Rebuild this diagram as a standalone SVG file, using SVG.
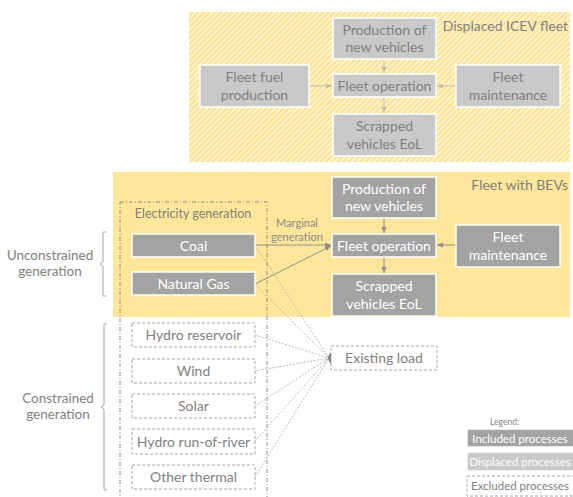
<svg xmlns="http://www.w3.org/2000/svg" width="573" height="497" viewBox="0 0 573 497">
<style>
text{font-family:Lato,"Liberation Sans",sans-serif}
.lbl{font-size:14px;text-anchor:middle}
.disp rect{fill:#c9c9c9;stroke:#ffffff;stroke-width:1.5}
.disp text{fill:#7f7f7f}
.inc rect{fill:#a3a3a3;stroke:#ffffff;stroke-width:1.5}
.inc text{fill:#ffffff}
.exc rect{fill:#ffffff;stroke:#a6a6a6;stroke-width:1;stroke-dasharray:3,2}
.exc text{fill:#7f7f7f}
.title{font-size:14px;fill:#7f7f7f}
.ca{stroke:#c4bca8;stroke-width:1;fill:none;marker-end:url(#ah1)}
.cb{stroke:#8c8c8c;stroke-width:1;fill:none;marker-end:url(#ah2)}
.cd{stroke:#a6a6a6;stroke-width:0.8;fill:none;stroke-dasharray:2,1.5}
.br{stroke:#a6a6a6;stroke-width:1;fill:none}
.side{font-size:13.5px;fill:#7f7f7f;text-anchor:middle}
</style>
<defs>
<pattern id="hatch" width="4" height="4" patternUnits="userSpaceOnUse" patternTransform="rotate(45)">
<rect width="4" height="4" fill="#fff4d2"/>
<rect width="2" height="4" fill="#ffe28e"/>
</pattern>
<marker id="ah1" viewBox="0 0 6 6" refX="6" refY="3" markerWidth="6" markerHeight="6" orient="auto" markerUnits="userSpaceOnUse">
<path d="M0,0.5 L6,3 L0,5.5 z" fill="#c4bca8"/>
</marker>
<marker id="ah2" viewBox="0 0 6 6" refX="6" refY="3" markerWidth="6" markerHeight="6" orient="auto" markerUnits="userSpaceOnUse">
<path d="M0,0.5 L6,3 L0,5.5 z" fill="#8c8c8c"/>
</marker>
</defs>
<rect width="573" height="497" fill="#ffffff"/>

<g id="panel-icev">
<rect x="189" y="12" width="381" height="150" fill="url(#hatch)"/>
<text class="title" x="568" y="31" text-anchor="end">Displaced ICEV fleet</text>
</g>
<g id="panel-bev">
<rect x="113" y="172" width="457" height="145" fill="#ffe699"/>
<text class="title" x="568" y="190" text-anchor="end">Fleet with BEVs</text>
</g>

<g id="electricity-generation">
<rect x="120" y="202" width="147" height="300" fill="none" stroke="#7f7f7f" stroke-width="0.9" stroke-dasharray="4,2,1,2"/>
<text x="193" y="218" font-size="12.5" fill="#7f7f7f" text-anchor="middle">Electricity generation</text>
</g>

<g id="connectors">
<line class="ca" x1="384" y1="59" x2="384" y2="73"/>
<line class="ca" x1="309" y1="86" x2="332" y2="86"/>
<line class="ca" x1="456" y1="86" x2="437" y2="86"/>
<line class="ca" x1="384" y1="97" x2="384" y2="113"/>
<line class="cb" x1="384" y1="218" x2="384" y2="233"/>
<line class="cb" x1="456" y1="245" x2="437" y2="245"/>
<line class="cb" x1="384" y1="257" x2="384" y2="273"/>
<line class="cb" x1="255" y1="245" x2="331" y2="245"/>
<line class="cb" x1="255" y1="284" x2="331" y2="246"/>
<line class="cd" x1="255" y1="245" x2="329" y2="358"/>
<line class="cd" x1="255" y1="284" x2="329" y2="358"/>
<line class="cd" x1="255" y1="335" x2="329" y2="358"/>
<line class="cd" x1="255" y1="371" x2="329" y2="358"/>
<line class="cd" x1="255" y1="406" x2="329" y2="358"/>
<line class="cd" x1="255" y1="441" x2="329" y2="358"/>
<line class="cd" x1="255" y1="477" x2="329" y2="358"/>
<path d="M331,352 Q325,358 331,364 z" fill="#7f7f7f"/>
<text x="297" y="227" font-size="11" fill="#8c8c8c" text-anchor="middle">Marginal</text>
<text x="297" y="241" font-size="11" fill="#8c8c8c" text-anchor="middle">generation</text>
</g>

<g id="icev-production" class="disp"><rect x="333" y="18" width="103" height="41"/><text class="lbl" x="384.5" y="35">Production of</text><text class="lbl" x="384.5" y="52">new vehicles</text></g>
<g id="icev-fuel" class="disp"><rect x="200" y="65" width="109" height="42"/><text class="lbl" x="254.5" y="82">Fleet fuel</text><text class="lbl" x="254.5" y="100">production</text></g>
<g id="icev-operation" class="disp"><rect x="333" y="74" width="103" height="23"/><text class="lbl" x="384.5" y="91">Fleet operation</text></g>
<g id="icev-maintenance" class="disp"><rect x="456" y="65" width="104" height="42"/><text class="lbl" x="508" y="82">Fleet</text><text class="lbl" x="508" y="100">maintenance</text></g>
<g id="icev-scrapped" class="disp"><rect x="333" y="114" width="103" height="42"/><text class="lbl" x="384.5" y="131">Scrapped</text><text class="lbl" x="384.5" y="149">vehicles EoL</text></g>

<g id="bev-production" class="inc"><rect x="332" y="177" width="104" height="41"/><text class="lbl" x="384" y="194">Production of</text><text class="lbl" x="384" y="211">new vehicles</text></g>
<g id="bev-operation" class="inc"><rect x="332" y="234" width="104" height="23"/><text class="lbl" x="384" y="250.5">Fleet operation</text></g>
<g id="bev-maintenance" class="inc"><rect x="456" y="225" width="104" height="42"/><text class="lbl" x="508" y="242">Fleet</text><text class="lbl" x="508" y="260">maintenance</text></g>
<g id="bev-scrapped" class="inc"><rect x="332" y="274" width="104" height="42"/><text class="lbl" x="384" y="291">Scrapped</text><text class="lbl" x="384" y="309">vehicles EoL</text></g>
<g id="coal" class="inc"><rect x="132" y="234" width="123" height="23"/><text class="lbl" x="193.5" y="250.5">Coal</text></g>
<g id="natural-gas" class="inc"><rect x="132" y="272" width="123" height="23"/><text class="lbl" x="193.5" y="288.5">Natural Gas</text></g>

<g id="hydro-reservoir" class="exc"><rect x="132" y="323" width="123" height="24"/><text class="lbl" x="193.5" y="340">Hydro reservoir</text></g>
<g id="wind" class="exc"><rect x="132" y="359" width="123" height="24"/><text class="lbl" x="193.5" y="376">Wind</text></g>
<g id="solar" class="exc"><rect x="132" y="394" width="123" height="24"/><text class="lbl" x="193.5" y="411">Solar</text></g>
<g id="hydro-ror" class="exc"><rect x="132" y="429" width="123" height="25"/><text class="lbl" x="193.5" y="446.5">Hydro run-of-river</text></g>
<g id="other-thermal" class="exc"><rect x="132" y="465" width="123" height="24"/><text class="lbl" x="193.5" y="482">Other thermal</text></g>
<g id="existing-load" class="exc"><rect x="331" y="346" width="106" height="24"/><text class="lbl" x="384" y="363">Existing load</text></g>

<g id="unconstrained-bracket">
<path class="br" d="M106,232 L103,232 L103,262 L100,264 L103,266 L103,296 L106,296"/>
<text class="side" x="50" y="260">Unconstrained</text>
<text class="side" x="50" y="276">generation</text>
</g>
<g id="constrained-bracket">
<path class="br" d="M107,324 L104,324 L104,405 L101,407 L104,409 L104,490 L107,490"/>
<text class="side" x="58" y="403">Constrained</text>
<text class="side" x="58" y="419">generation</text>
</g>

<g id="legend">
<text x="490" y="425" font-size="8.5" fill="#7f7f7f">Legend:</text>
<g class="inc"><rect x="467" y="429" width="108" height="18" stroke="none"/><text x="520" y="442.5" font-size="11.5" text-anchor="middle">Included processes</text></g>
<g class="disp"><rect x="467" y="452" width="108" height="19" stroke="none"/><text x="520" y="466" font-size="11.5" text-anchor="middle" style="fill:#ffffff">Displaced processes</text></g>
<g class="exc"><rect x="467" y="476" width="108" height="20"/><text x="520" y="490" font-size="11.5" text-anchor="middle">Excluded processes</text></g>
</g>
</svg>
